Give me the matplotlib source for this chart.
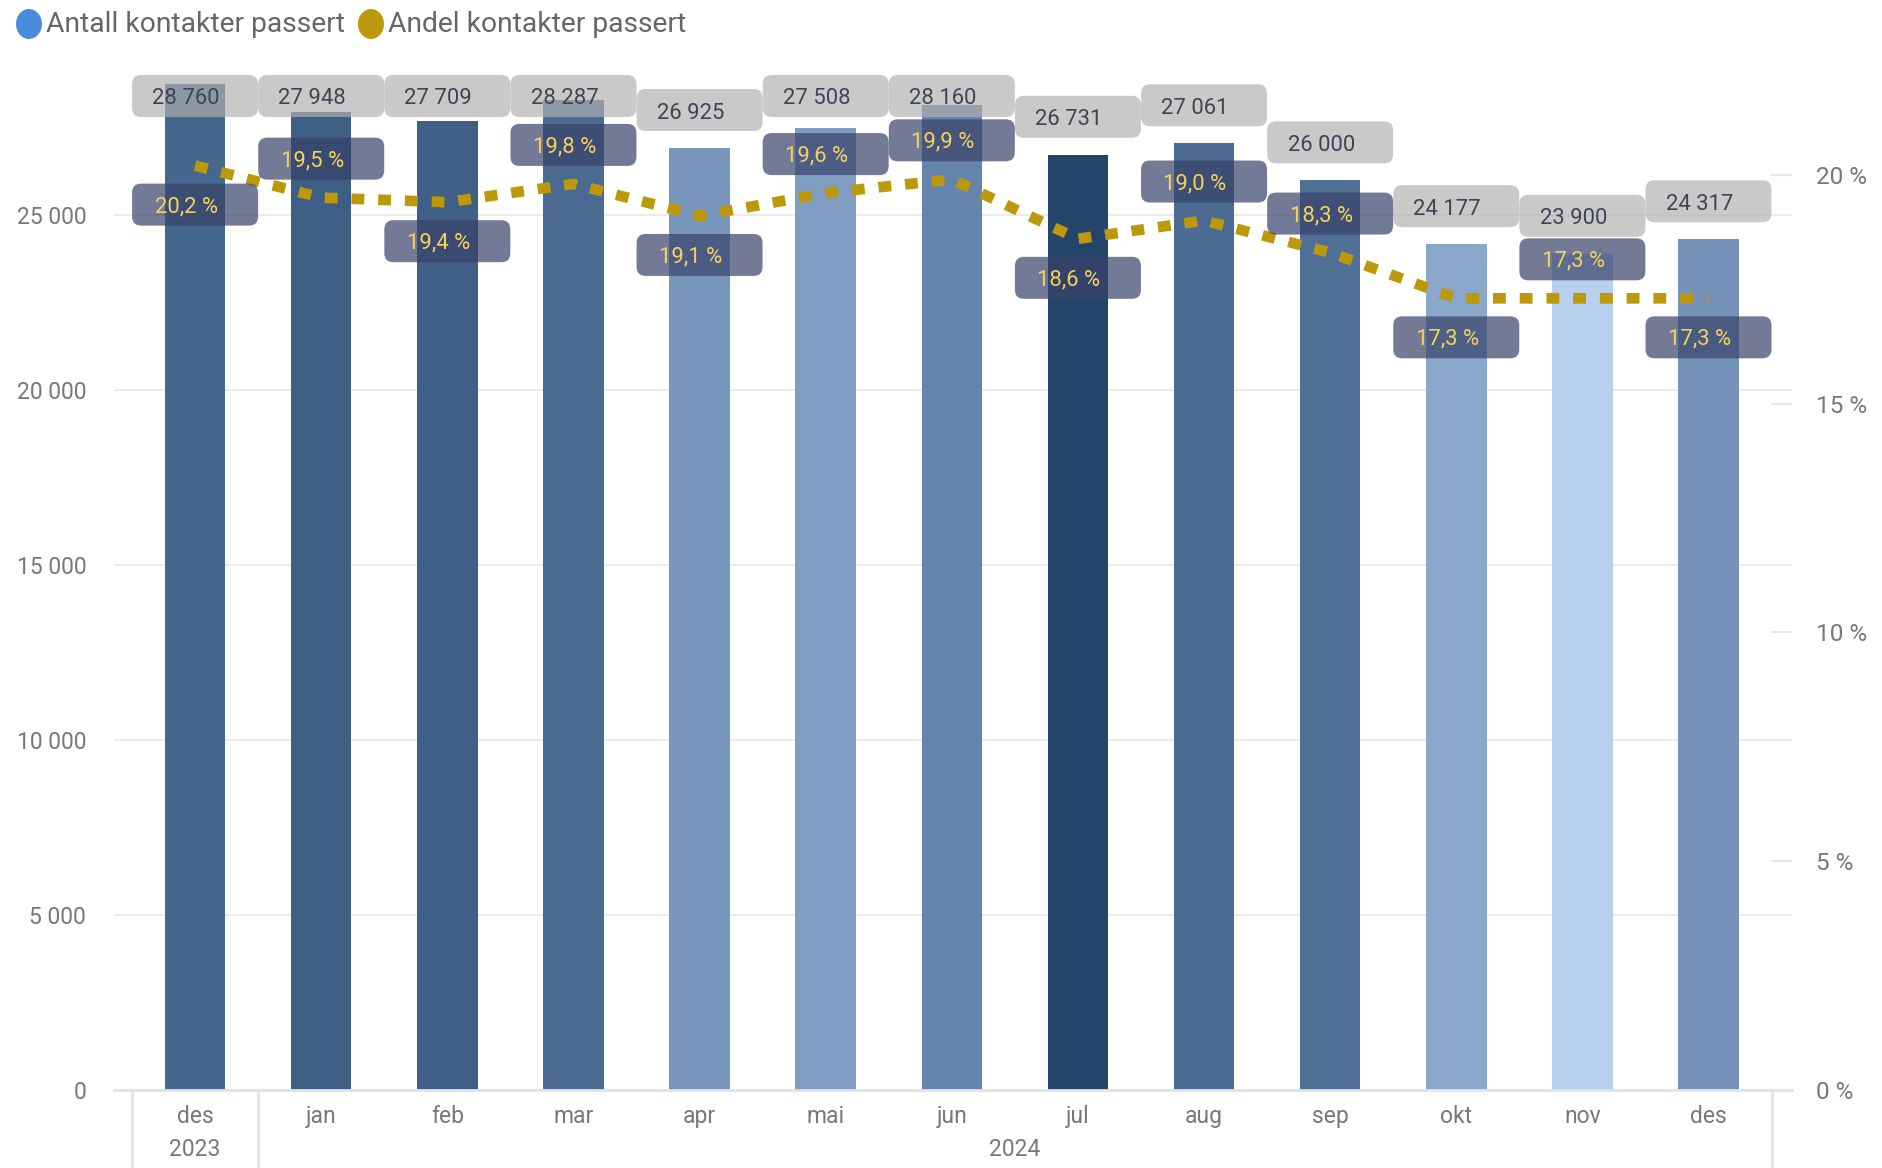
import matplotlib
matplotlib.use("Agg")
import matplotlib.pyplot as plt
from matplotlib.patches import FancyBboxPatch, Ellipse
from matplotlib.transforms import IdentityTransform

# ── data ──────────────────────────────────────────────────────────────────────
months = ["des", "jan", "feb", "mar", "apr", "mai", "jun", "jul", "aug", "sep", "okt", "nov", "des"]
year_labels = ["2023", "2024"]
year_first = [0, 1]      # first month index of each year group
year_last = [0, 12]      # last month index of each year group

contacts = [28760, 27948, 27709, 28287, 26925, 27508, 28160, 26731, 27061, 26000, 24177, 23900, 24317]
share_pct = [20.2, 19.5, 19.4, 19.8, 19.1, 19.6, 19.9, 18.6, 19.0, 18.3, 17.3, 17.3, 17.3]

bar_colors = ["#46678E", "#3E5E86", "#405F86", "#4B6A92", "#7896BC", "#809EC3", "#6584AB",
              "#24446A", "#4B6B92", "#4F6F96", "#8AA7CC", "#B6D0EE", "#7593B9"]
# +1 = label above the line point, -1 = below
share_side = [-1, 1, -1, 1, -1, 1, 1, -1, 1, 1, -1, 1, -1]

left_ticks = [0, 5000, 10000, 15000, 20000, 25000]
right_ticks = [0, 5, 10, 15, 20]

# ── styling ───────────────────────────────────────────────────────────────────
plt.rcParams["font.family"] = ["Roboto", "DejaVu Sans"]
TICK_GREY = "#787878"
GOLD = "#BC990B"
TICK_SIZE = 16.5
LABEL_SIZE = 15.8

W_PX, H_PX = 1883, 1168
fig = plt.figure(figsize=(W_PX / 100, H_PX / 100), dpi=100)
ax = fig.add_axes([114 / W_PX, 1 - 1090 / H_PX, (1792 - 114) / W_PX, (1090 - 75) / H_PX])

x = list(range(len(months)))


def fmt_int(v):
    return f"{v:,}".replace(",", " ")


def fmt_pct(v):
    return f"{v:.1f}".replace(".", ",") + " %"


# ── bars ──────────────────────────────────────────────────────────────────────
ax.bar(x, contacts, width=0.48, color=bar_colors, zorder=2)
ax.set_xlim(-0.643, 12.662)
ax.set_ylim(0, 29012)
ax.set_yticks(left_ticks)
ax.set_yticklabels([fmt_int(t) for t in left_ticks])
ax.grid(axis="y", color="#EBEBEB", lw=1.5)
ax.set_axisbelow(True)
for s in ["top", "left", "right"]:
    ax.spines[s].set_visible(False)
ax.spines["bottom"].set_color("#E3E3E3")
ax.spines["bottom"].set_linewidth(2)
ax.tick_params(axis="y", length=0, pad=20, labelcolor=TICK_GREY, labelsize=TICK_SIZE)
ax.set_xticks(x)
ax.set_xticklabels(months)
ax.tick_params(axis="x", length=0, pad=11, labelcolor=TICK_GREY, labelsize=TICK_SIZE)

# year row + group separators under the month labels
xa = ax.get_xaxis_transform()
for lab, a, b in zip(year_labels, year_first, year_last):
    ax.text((a + b) / 2, -0.0587, lab, transform=xa, ha="center", va="center",
            color=TICK_GREY, fontsize=TICK_SIZE)
for xv in [-0.5, 0.5, 12.5]:
    ax.plot([xv, xv], [-0.002, -0.09], transform=xa, clip_on=False, color="#E3E3E3", lw=2)

# ── share line on the right axis ──────────────────────────────────────────────
ax2 = ax.twinx()
ax2.set_ylim(0, 22.18)
ax2.set_yticks(right_ticks)
ax2.set_yticklabels([f"{t} %" for t in right_ticks])
ax2.tick_params(axis="y", length=0, pad=17, labelcolor=TICK_GREY, labelsize=17.5)
for s in ["top", "left", "right", "bottom"]:
    ax2.spines[s].set_visible(False)
for t in right_ticks:
    ax2.axhline(t, xmin=0.988, xmax=1.0, color="#E6E6E6", lw=1.5)
ax2.plot(x, share_pct, color=GOLD, lw=7.7, linestyle=(0, (1.2, 1.3)),
         dash_capstyle="butt", zorder=3)

# ── data labels (drawn in pixel space) ────────────────────────────────────────
pix = IdentityTransform()
BOX_W, BOX_H = 126, 42
top_px = ax.transAxes.transform((0, 1))[1]


def label_box(cx, cy, color, alpha):
    fig.add_artist(FancyBboxPatch((cx - BOX_W / 2, cy - BOX_H / 2), BOX_W, BOX_H,
                                  boxstyle="round,pad=0,rounding_size=9", transform=pix,
                                  fc=color, ec="none", alpha=alpha, zorder=5))


for i, v in enumerate(contacts):
    bx, by = ax.transData.transform((i, v))
    cy = min(by + 38, top_px - BOX_H / 2)
    label_box(bx, cy, "#B0B0B0", 0.68)
    fig.text(bx - 9, cy - 3, fmt_int(v), transform=pix, ha="center", va="center",
             color="#3F4454", fontsize=LABEL_SIZE, zorder=6)

for i, v in enumerate(share_pct):
    lx, ly = ax2.transData.transform((i, v))
    cy = ly + share_side[i] * 39
    label_box(lx, cy, "#384268", 0.70)
    fig.text(lx - 9, cy - 2, fmt_pct(v), transform=pix, ha="center", va="center",
             color="#F3D35E", fontsize=LABEL_SIZE, zorder=7)

# ── legend ────────────────────────────────────────────────────────────────────
legend_items = [("Antall kontakter passert", "#4A8CDB", 29, 46),
                ("Andel kontakter passert", "#BC990B", 371, 388)]
for text, col, cx, tx in legend_items:
    fig.add_artist(Ellipse((cx, H_PX - 24), 26, 30, transform=pix, fc=col, ec="none"))
    fig.text(tx, H_PX - 25, text, transform=pix, ha="left", va="center",
             color="#666666", fontsize=20.3)

fig.savefig("out.png", dpi=100)
